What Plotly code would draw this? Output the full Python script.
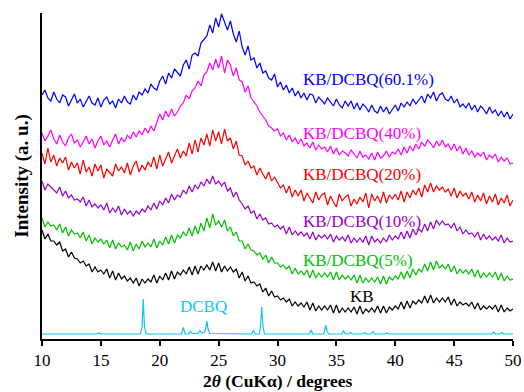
import numpy as np
import plotly.graph_objects as go

# 2-theta sampling grid (degrees), 0.25 deg steps from 10 to 50
TWO_THETA = np.round(np.arange(10.0, 50.0001, 0.25), 2)

# Intensities (arbitrary units, vertically offset as in the figure), 4 values per degree
KB_601 = [
    244, 249, 241, 238, 247, 240, 236, 244, 242, 233, 239, 245, 236, 240, 232, 238,
    243, 236, 234, 241, 232, 239, 242, 235, 238, 231, 240, 236, 243, 237, 235, 244,
    239, 247, 244, 250, 246, 255, 251, 249, 258, 263, 255, 266, 261, 270, 266, 263,
    274, 279, 270, 284, 286, 283, 296, 300, 303, 314, 306, 321, 312, 325, 316, 309,
    318, 305, 297, 308, 292, 284, 293, 279, 281, 271, 276, 266, 268, 261, 259, 265,
    252, 257, 249, 254, 246, 251, 243, 248, 241, 246, 239, 245, 244, 236, 242, 238,
    235, 241, 237, 233, 240, 234, 231, 238, 233, 238, 230, 236, 229, 235, 232, 227,
    234, 228, 226, 233, 227, 232, 225, 230, 234, 228, 236, 232, 237, 233, 240, 235,
    239, 243, 236, 245, 241, 247, 238, 244, 246, 240, 238, 243, 236, 240, 232, 235,
    231, 236, 229, 234, 227, 233, 230, 225, 232, 226, 229, 223, 228, 222, 227, 220,
    225]
KB_40 = [
    206, 198, 203, 209, 200, 195, 204, 197, 193, 201, 205, 196, 199, 192, 197, 203,
    195, 200, 191, 198, 203, 194, 198, 192, 199, 205, 195, 201, 197, 204, 200, 207,
    202, 208, 204, 211, 206, 213, 208, 216, 225, 219, 228, 222, 230, 223, 227, 233,
    236, 244, 240, 248, 251, 258, 253, 264, 267, 276, 269, 280, 271, 283, 266, 279,
    274, 263, 271, 259, 257, 247, 253, 241, 237, 233, 227, 223, 219, 213, 211, 208,
    210, 203, 206, 199, 204, 197, 201, 195, 200, 193, 196, 191, 197, 189, 194, 190,
    192, 187, 193, 185, 191, 184, 188, 186, 183, 189, 185, 181, 188, 182, 184, 180,
    186, 179, 187, 181, 183, 188, 182, 187, 185, 190, 184, 192, 186, 193, 188, 195,
    190, 197, 193, 199, 196, 191, 198, 193, 199, 192, 195, 189, 195, 188, 193, 185,
    191, 184, 188, 182, 186, 183, 187, 179, 184, 181, 185, 177, 182, 178, 181, 175,
    176]
KB_20 = [
    186, 175, 191, 177, 184, 173, 181, 176, 182, 169, 177, 171, 176, 165, 179, 167,
    172, 163, 175, 168, 174, 161, 170, 166, 163, 175, 168, 172, 166, 176, 164, 173,
    178, 167, 174, 169, 177, 172, 182, 170, 184, 173, 180, 187, 176, 184, 190, 181,
    188, 183, 196, 185, 199, 187, 201, 194, 205, 193, 209, 198, 207, 195, 210, 198,
    201, 190, 198, 184, 183, 174, 178, 171, 173, 164, 171, 165, 160, 167, 158, 162,
    157, 151, 154, 146, 153, 142, 149, 143, 149, 138, 146, 141, 136, 147, 139, 144,
    146, 134, 143, 137, 132, 145, 138, 142, 144, 133, 140, 135, 142, 137, 146, 131,
    145, 138, 143, 136, 147, 136, 144, 140, 145, 139, 148, 137, 147, 141, 149, 144,
    151, 142, 154, 147, 156, 147, 153, 149, 152, 147, 150, 143, 151, 141, 148, 143,
    146, 140, 147, 137, 144, 138, 146, 135, 143, 137, 145, 134, 141, 136, 144, 133,
    139]
KB_10 = [
    158, 149, 155, 152, 150, 146, 152, 143, 148, 141, 144, 139, 140, 137, 142, 133,
    139, 132, 135, 131, 134, 129, 136, 126, 131, 127, 133, 124, 130, 125, 128, 123,
    128, 125, 130, 127, 133, 129, 136, 130, 138, 134, 141, 136, 145, 139, 144, 142,
    149, 145, 153, 147, 154, 150, 157, 153, 160, 155, 163, 155, 158, 153, 157, 148,
    151, 142, 147, 139, 135, 130, 133, 126, 128, 120, 125, 119, 121, 115, 116, 112,
    114, 110, 113, 105, 112, 104, 108, 104, 107, 103, 106, 100, 107, 99, 104, 101,
    104, 100, 105, 97, 103, 99, 102, 98, 104, 96, 101, 97, 101, 97, 103, 94,
    103, 97, 100, 96, 101, 97, 104, 99, 103, 100, 107, 100, 108, 101, 110, 104,
    110, 107, 115, 108, 117, 110, 119, 114, 118, 114, 115, 111, 116, 108, 112, 105,
    109, 105, 106, 102, 107, 99, 105, 100, 103, 99, 102, 98, 104, 96, 101, 97,
    98]
KB_5 = [
    121, 112, 117, 113, 114, 109, 115, 106, 112, 103, 109, 105, 106, 101, 107, 98,
    104, 95, 101, 97, 100, 95, 99, 91, 99, 90, 96, 92, 94, 89, 97, 88,
    95, 90, 98, 92, 96, 92, 100, 91, 98, 94, 102, 95, 104, 96, 104, 101,
    107, 103, 111, 103, 113, 105, 116, 108, 121, 111, 125, 114, 118, 112, 119, 108,
    112, 103, 107, 98, 98, 90, 95, 89, 88, 84, 86, 80, 84, 76, 82, 76,
    76, 72, 74, 70, 73, 65, 71, 65, 68, 64, 69, 61, 69, 61, 66, 62,
    66, 62, 67, 59, 67, 59, 64, 60, 63, 59, 64, 56, 64, 56, 61, 57,
    61, 57, 62, 55, 63, 55, 62, 59, 63, 60, 67, 60, 68, 61, 70, 64,
    70, 67, 75, 68, 77, 69, 78, 71, 74, 70, 75, 67, 73, 65, 70, 66,
    69, 65, 70, 62, 69, 61, 66, 62, 66, 62, 67, 59, 66, 58, 63, 59,
    60]
KB = [
    109, 100, 105, 98, 98, 94, 97, 88, 90, 82, 87, 81, 80, 76, 78, 73,
    75, 67, 72, 67, 69, 65, 70, 61, 68, 59, 66, 60, 63, 58, 61, 56,
    61, 53, 60, 56, 60, 57, 64, 56, 63, 59, 66, 59, 68, 60, 67, 64,
    69, 65, 72, 64, 73, 65, 73, 69, 74, 69, 77, 68, 76, 67, 73, 68,
    72, 67, 70, 61, 67, 58, 63, 56, 57, 53, 55, 47, 51, 43, 48, 42,
    43, 39, 41, 37, 40, 33, 37, 33, 36, 32, 37, 29, 36, 28, 33, 29,
    33, 29, 34, 26, 34, 26, 31, 27, 31, 27, 32, 25, 33, 25, 30, 27,
    31, 27, 33, 26, 33, 26, 32, 29, 33, 30, 37, 30, 38, 31, 38, 35,
    39, 36, 43, 36, 44, 36, 41, 37, 41, 37, 42, 34, 40, 33, 37, 34,
    36, 33, 37, 30, 36, 29, 33, 30, 33, 30, 34, 27, 34, 27, 31, 28,
    30]

# DCBQ reference pattern (sharp crystalline peaks)
DCBQ_X = [10, 14.6, 14.8, 15.0, 18.35, 18.5, 18.6, 18.7, 18.85, 21.85, 22.0, 22.15,
          22.45, 22.6, 22.75, 23.25, 23.4, 23.55, 23.8, 23.9, 24.0, 24.1, 24.25,
          27.8, 27.95, 28.1, 28.45, 28.55, 28.66, 28.77, 28.9, 32.7, 32.85, 33.0,
          33.9, 34.0, 34.1, 34.2, 34.35, 35.45, 35.6, 35.75, 36.05, 36.2, 36.35,
          37.25, 37.4, 37.55, 37.95, 38.1, 38.25, 39.15, 39.3, 39.45, 48.2, 48.35,
          48.5, 48.9, 49.05, 49.2, 50]
DCBQ_Y = [5, 5, 6, 5, 5, 12, 40, 12, 5, 5, 11.5, 5,
          5, 7.5, 5.5, 5.5, 8.5, 6, 6.5, 10, 18, 10, 5.5,
          5, 9, 5, 5, 12, 32, 12, 5, 5, 9, 5,
          5, 8, 14, 8, 5, 5, 8.5, 5, 5, 6.5, 5,
          5, 6.5, 5, 5, 7.5, 5, 5, 6, 5, 5, 7,
          5, 5, 6.5, 5, 5]

SERIES = [
    ("KB/DCBQ(60.1%)", KB_601, "#0000FF"),
    ("KB/DCBQ(40%)", KB_40, "#FF00FF"),
    ("KB/DCBQ(20%)", KB_20, "#FF0000"),
    ("KB/DCBQ(10%)", KB_10, "#9900CC"),
    ("KB/DCBQ(5%)", KB_5, "#00C000"),
    ("KB", KB, "#000000"),
]
DCBQ_COLOR = "#13C3F5"

# label positions (x in degrees, y in intensity units)
LABELS = [
    ("KB/DCBQ(60.1%)", 32.0, 260, "#0000FF"),
    ("KB/DCBQ(40%)", 32.0, 206, "#FF00FF"),
    ("KB/DCBQ(20%)", 32.0, 165, "#FF0000"),
    ("KB/DCBQ(10%)", 32.0, 118, "#9900CC"),
    ("KB/DCBQ(5%)", 32.0, 79, "#00C000"),
    ("KB", 35.96, 43, "#000000"),
    ("DCBQ", 21.55, 33, DCBQ_COLOR),
]
X_TITLE = "<b>2<i>θ</i> (CuKα) / degrees</b>"
Y_TITLE = "<b>Intensity (a. u.)</b>"

SERIF = "Liberation Serif"

fig = go.Figure()
for name, vals, col in SERIES:
    fig.add_trace(go.Scatter(x=TWO_THETA, y=vals, mode="lines", name=name,
                             line=dict(color=col, width=1.2)))
fig.add_trace(go.Scatter(x=DCBQ_X, y=DCBQ_Y, mode="lines", name="DCBQ",
                         line=dict(color=DCBQ_COLOR, width=1.2)))

for txt, lx, ly, col in LABELS:
    fig.add_annotation(x=lx, y=ly, xref="x", yref="y", text=txt, showarrow=False,
                       xanchor="left", yanchor="middle",
                       font=dict(family=SERIF, size=17, color=col))

# x-axis title placed just under the tick labels
fig.add_annotation(x=0.5, y=-0.128, xref="paper", yref="paper", text=X_TITLE,
                   showarrow=False, xanchor="center", yanchor="middle",
                   font=dict(family=SERIF, size=17.5, color="black"))

fig.update_layout(
    width=524, height=392,
    margin=dict(l=42, r=11, t=13, b=53),
    paper_bgcolor="white", plot_bgcolor="white",
    showlegend=False,
    font=dict(family=SERIF, color="black"),
)
fig.update_xaxes(
    range=[10, 50], tickvals=[10, 15, 20, 25, 30, 35, 40, 45, 50],
    ticks="outside", ticklen=5, tickwidth=1.5, tickcolor="black",
    showline=True, linewidth=2, linecolor="black", mirror=False,
    showgrid=False, zeroline=False, automargin=False,
    tickfont=dict(family=SERIF, size=17, color="black"),
)
fig.update_yaxes(
    range=[0, 326], showticklabels=False, ticks="",
    showline=True, linewidth=2, linecolor="black", mirror=False,
    showgrid=False, zeroline=False, automargin=False,
    title=dict(text=Y_TITLE,
               font=dict(family=SERIF, size=19, color="black"), standoff=6),
)

fig.write_html("out.html")
